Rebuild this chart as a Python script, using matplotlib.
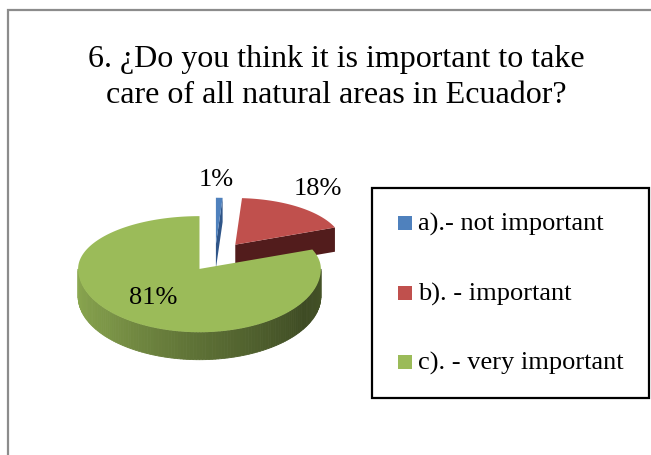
import numpy as np
import matplotlib
matplotlib.use("Agg")
import matplotlib.pyplot as plt
from matplotlib.patches import Polygon, Rectangle
from matplotlib.colors import to_rgb

# ---- data ----
categories = ["a).- not important", "b). - important", "c). - very important"]
values = [1, 18, 81]
pct_labels = ["1%", "18%", "81%"]
colors = ["#4F81BD", "#C0504D", "#9BBB59"]
side_colors = ["#2F5588", "#521C1C", None]
title_lines = ["6. \u00bfDo you think it is important to take",
               "care of all natural areas in Ecuador?"]

# ---- layout (pixel coordinates, y down) ----
W, H = 651, 456
fig = plt.figure(figsize=(W / 100, H / 100), dpi=100)
ax = fig.add_axes([0, 0, 1, 1])
ax.set_xlim(0, W)
ax.set_ylim(H, 0)
ax.axis("off")

FONT = "Liberation Serif"
cx, cy = 215, 259
RX, RY, RY_BACK, RY_FRONT, DEPTH = 115, 55, 50, 60, 26
persp = 0.28
explode = [0.25, 0.30, 0.24]
label_pos = [(216, 180), (318, 189), (153, 298)]


def shade(base, th):
    # lighting factor along the curved side (th in radians, clockwise from top)
    d = np.degrees(th) % 360
    xs = [90, 120, 180, 230, 270]
    fs = [0.45, 0.40, 0.60, 0.80, 0.90]
    f = np.interp(d, xs, fs)
    r, g, b = to_rgb(base)
    return (r * f, g * f, b * f)


total = float(sum(values))
angles = np.cumsum([0] + [v / total * 2 * np.pi for v in values])

for i, v in enumerate(values):
    ts, te = angles[i], angles[i + 1]
    mid = (ts + te) / 2
    ox = cx + explode[i] * RX * np.sin(mid)
    oy = cy - explode[i] * RY * np.cos(mid)
    s = 1 + persp * (oy - cy) / RY
    rx, depth = RX * s, DEPTH * s
    ryb, ryf = RY_BACK * s, RY_FRONT * s

    def pt(th, ox=ox, oy=oy, rx=rx, ryb=ryb, ryf=ryf):
        c = np.cos(th)
        return (ox + rx * np.sin(th), oy - c * (ryb if c > 0 else ryf))

    sc = side_colors[i]
    # radial faces
    for edge, nrm in ((ts, ts - np.pi / 2), (te, te + np.pi / 2)):
        if np.cos(nrm) < -1e-6:
            a, b = pt(edge), (ox, oy)
            face = [a, b, (b[0], b[1] + depth), (a[0], a[1] + depth)]
            ax.add_patch(Polygon(face, closed=True, fc=sc or shade(colors[i], edge),
                                 ec="none", zorder=2 + i))
    # curved outer side (front half)
    lo, hi = max(ts, np.pi / 2), min(te, 3 * np.pi / 2)
    if hi > lo:
        n = 120
        th = np.linspace(lo, hi, n + 1)
        for k in range(n):
            t0, t1 = th[k], th[k + 1]
            p0, p1 = pt(t0), pt(t1)
            quad = [p0, p1, (p1[0], p1[1] + depth), (p0[0], p0[1] + depth)]
            c = sc or shade(colors[i], (t0 + t1) / 2)
            ax.add_patch(Polygon(quad, closed=True, fc=c, ec=c, lw=0.6, zorder=2 + i))
    # top face
    th = np.linspace(ts, te, 240)
    top = [(ox, oy)] + [pt(t) for t in th]
    ax.add_patch(Polygon(top, closed=True, fc=colors[i], ec="none", zorder=2.5 + i))
    ax.text(label_pos[i][0], label_pos[i][1], pct_labels[i], family=FONT, fontsize=19,
            ha="center", va="center", zorder=10)

# title
ax.text(336, 67, title_lines[0], family=FONT, fontsize=23, ha="center", va="baseline")
ax.text(336, 103, title_lines[1], family=FONT, fontsize=23, ha="center", va="baseline")

# chart border (left and top visible)
ax.plot([8, 8, W], [H, 11, 11], color="#8C8C8C", lw=1.6, solid_joinstyle="miter", zorder=1)

# legend
ax.add_patch(Rectangle((372, 189), 277, 210, fill=False, ec="black", lw=1.6, zorder=5))
rows = [224, 294, 363]
for i, lab in enumerate(categories):
    ax.add_patch(Rectangle((398, rows[i] - 7), 14, 14, fc=colors[i], ec="none", zorder=6))
    ax.text(418, rows[i], lab, family=FONT, fontsize=19, ha="left", va="center", zorder=6)

fig.savefig("out.png", dpi=100)
